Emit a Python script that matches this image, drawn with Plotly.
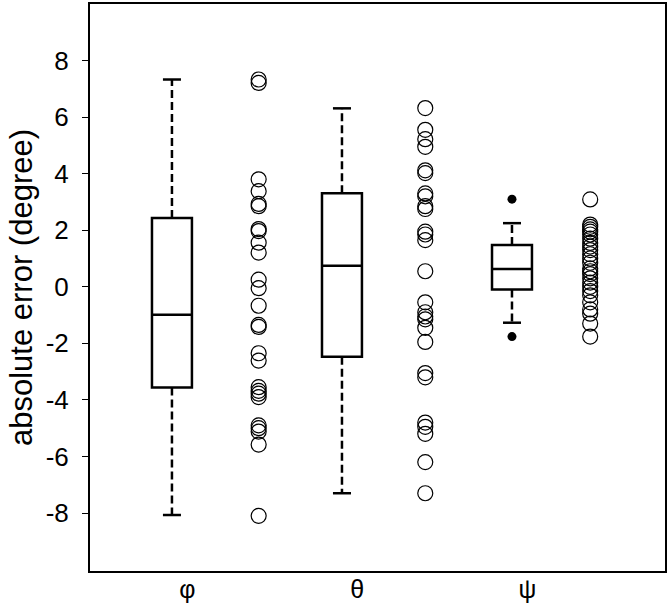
import plotly.graph_objects as go

# ---------------- data ----------------
categories = ["φ", "θ", "ψ"]

phi_errors = [7.33, 7.21, 3.80, 3.38, 2.93, 2.85, 2.04, 1.97, 1.56, 1.21, 0.25, -0.05,
              -0.67, -1.35, -1.42, -2.35, -2.61, -3.55, -3.68, -3.78, -3.90, -4.90,
              -5.00, -5.12, -5.58, -8.10]
theta_errors = [6.32, 5.55, 5.22, 4.95, 4.12, 4.02, 3.30, 3.20, 2.85, 2.75, 1.95, 1.85,
                1.65, 0.55, -0.55, -0.90, -1.05, -1.15, -1.45, -1.95, -3.05, -3.20,
                -4.80, -4.95, -5.20, -6.20, -7.30]
psi_errors = [3.09, 2.20, 2.12, 2.03, 1.95, 1.85, 1.70, 1.55, 1.42, 1.30, 1.15, 1.00,
              0.85, 0.65, 0.55, 0.45, 0.30, 0.15, 0.00, -0.15, -0.30, -0.55, -0.80,
              -0.95, -1.30, -1.76]

# box statistics
box_q1 = [-3.56, -2.47, -0.10]
box_median = [-0.99, 0.74, 0.63]
box_q3 = [2.43, 3.31, 1.48]
whisker_low = [-8.07, -7.30, -1.27]
whisker_high = [7.33, 6.31, 2.25]
outliers = [[], [], [3.10, -1.76]]

y_ticks = [-8, -6, -4, -2, 0, 2, 4, 6, 8]

# ---------------- layout constants ----------------
box_pos = [1, 2, 3]
scatter_offset = [0.51, 0.49, 0.46]
label_offset = 0.09
box_width = 0.235
cap_half = 0.053

series = [phi_errors, theta_errors, psi_errors]

fig = go.Figure()

for i, cat in enumerate(categories):
    p = box_pos[i]
    # box (no whiskers; whiskers drawn dashed below)
    fig.add_trace(go.Box(
        x=[p], q1=[box_q1[i]], median=[box_median[i]], q3=[box_q3[i]],
        lowerfence=[box_q1[i]], upperfence=[box_q3[i]],
        width=box_width, whiskerwidth=0, boxpoints=False,
        line=dict(color="black", width=2.5), fillcolor="white",
        showlegend=False, hoverinfo="skip"))
    # dashed whiskers
    fig.add_trace(go.Scatter(
        x=[p, p, None, p, p],
        y=[box_q3[i], whisker_high[i], None, box_q1[i], whisker_low[i]],
        mode="lines", line=dict(color="black", width=2.5, dash="8px,4px"),
        showlegend=False, hoverinfo="skip"))
    # caps
    fig.add_trace(go.Scatter(
        x=[p - cap_half, p + cap_half, None, p - cap_half, p + cap_half],
        y=[whisker_high[i], whisker_high[i], None, whisker_low[i], whisker_low[i]],
        mode="lines", line=dict(color="black", width=2.5),
        showlegend=False, hoverinfo="skip"))
    # outliers
    if outliers[i]:
        fig.add_trace(go.Scatter(
            x=[p] * len(outliers[i]), y=outliers[i], mode="markers",
            marker=dict(symbol="circle", size=9, color="black"),
            showlegend=False))
    # raw points
    vals = series[i]
    fig.add_trace(go.Scatter(
        x=[p + scatter_offset[i]] * len(vals), y=vals, mode="markers",
        marker=dict(symbol="circle-open", size=15, color="black",
                    line=dict(width=1.2, color="black")),
        showlegend=False))

fig.update_layout(
    width=669, height=613,
    margin=dict(l=90, r=4, t=2, b=42),
    paper_bgcolor="white", plot_bgcolor="white",
    font=dict(family="Liberation Sans, Arial, sans-serif", color="black", size=26),
)
fig.update_xaxes(
    range=[0.518, 3.90],
    tickvals=[p + label_offset for p in box_pos], ticktext=categories,
    ticks="", showgrid=False, zeroline=False,
    showline=True, linecolor="black", linewidth=2, mirror=True,
    tickfont=dict(size=25), ticklabelstandoff=-5,
)
fig.update_yaxes(
    range=[-10.05, 10.0],
    tickvals=y_ticks, ticktext=[str(v) for v in y_ticks],
    ticks="outside", ticklen=6, tickwidth=1, tickcolor="black",
    showgrid=False, zeroline=False,
    showline=True, linecolor="black", linewidth=2, mirror=True,
    tickfont=dict(size=26), ticklabelstandoff=8,
    title=dict(text="absolute error (degree)", font=dict(size=31), standoff=4),
)

fig.write_html("out.html", config={"displayModeBar": False},
               post_script="document.body.style.margin='0';")
